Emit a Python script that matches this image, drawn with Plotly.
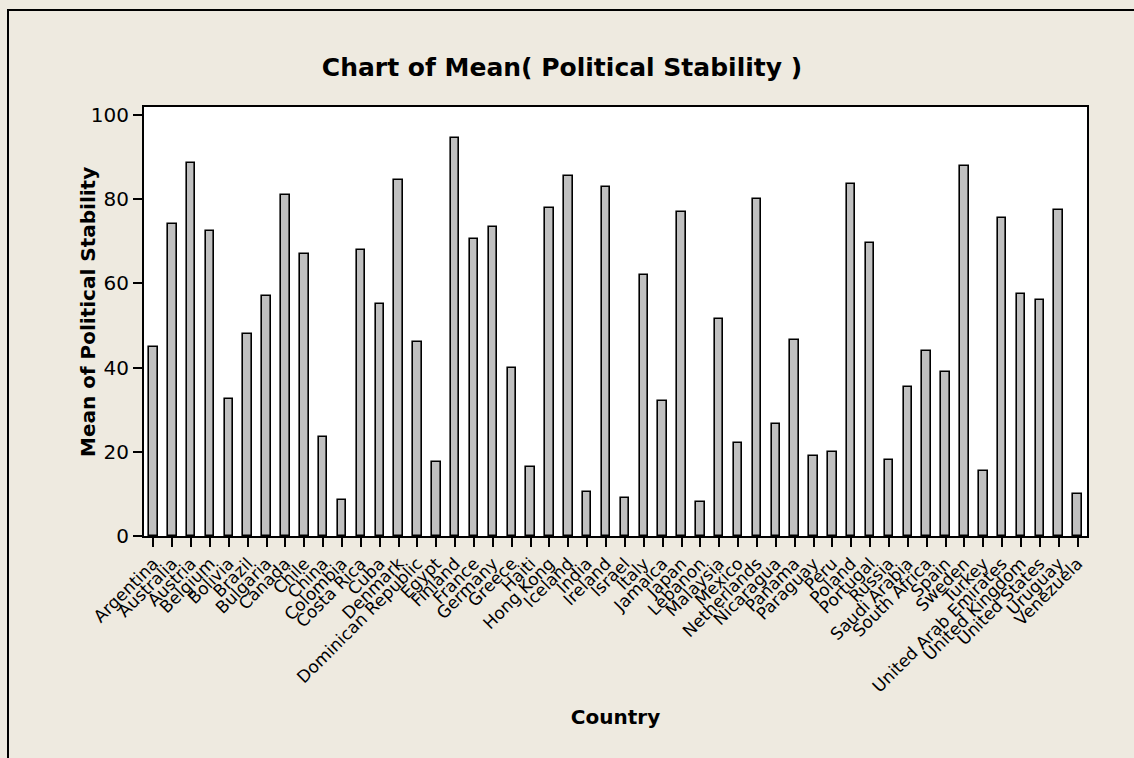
import plotly.graph_objects as go

countries = ["Argentina", "Australia", "Austria", "Belgium", "Bolivia", "Brazil", "Bulgaria",
             "Canada", "Chile", "China", "Colombia", "Costa Rica", "Cuba", "Denmark",
             "Dominican Republic", "Egypt", "Finland", "France", "Germany", "Greece", "Haiti",
             "Hong Kong", "Iceland", "India", "Ireland", "Israel", "Italy", "Jamaica", "Japan",
             "Lebanon", "Malaysia", "Mexico", "Netherlands", "Nicaragua", "Panama", "Paraguay",
             "Peru", "Poland", "Portugal", "Russia", "Saudi Arabia", "South Africa", "Spain",
             "Sweden", "Turkey", "United Arab Emirates", "United Kingdom", "United States",
             "Uruguay", "Venezuela"]

mean_stability = [45, 74, 88.5, 72.5, 32.5, 48, 57, 81, 67, 23.5, 8.5, 68, 55, 84.5,
                  46, 17.5, 94.5, 70.5, 73.5, 40, 16.5, 78, 85.5, 10.5, 83, 9, 62, 32,
                  77, 8, 51.5, 22, 80, 26.5, 46.5, 19, 20, 83.5, 69.5, 18, 35.5, 44, 39,
                  88, 15.5, 75.5, 57.5, 56, 77.5, 10]

y_ticks = [0, 20, 40, 60, 80, 100]

W, H = 1134, 758
L, R, T, B = 144, 47, 107, 222
pw, ph = W - L - R, H - T - B


def px_x(X):
    return (X - L) / pw


def px_y(Y):
    return (H - B - Y) / ph


fig = go.Figure()
fig.add_trace(go.Bar(
    x=countries, y=mean_stability, width=0.45,
    marker=dict(color="#C0C0C0", line=dict(color="black", width=1.6)),
))

fig.update_layout(
    width=W, height=H,
    margin=dict(l=L, r=R, t=T, b=B, autoexpand=False),
    paper_bgcolor="#EEEAE0",
    plot_bgcolor="white",
    showlegend=False,
    bargap=0,
    font=dict(family="DejaVu Sans", color="black"),
    title=dict(text="<b>Chart of Mean( Political Stability )</b>",
               font=dict(family="DejaVu Sans", size=25, color="black"),
               x=562 / W, xanchor="center", xref="container",
               y=1 - 67 / H, yanchor="middle", yref="container"),
    xaxis=dict(
        type="category", range=[-0.5, len(countries) - 0.5],
        tickmode="array", tickvals=countries, ticktext=countries,
        showline=True, mirror=True, linecolor="black", linewidth=2,
        ticks="outside", ticklen=9, tickwidth=2, tickcolor="black",
        tickangle=-45, tickfont=dict(size=17, family="DejaVu Sans"),
        showgrid=False, zeroline=False,
        title=dict(text="<b>Country</b>", font=dict(size=20), standoff=15),
    ),
    yaxis=dict(
        range=[0, 101.9], tickvals=y_ticks,
        showline=True, mirror=True, linecolor="black", linewidth=2,
        ticks="outside", ticklen=9, tickwidth=2, tickcolor="black",
        tickfont=dict(size=20, family="DejaVu Sans"),
        showgrid=False, zeroline=False,
    ),
    annotations=[dict(text="<b>Mean of Political Stability</b>", textangle=-90,
                      xref="paper", yref="paper", x=px_x(88), y=px_y(312),
                      xanchor="center", yanchor="middle", showarrow=False,
                      font=dict(size=20, family="DejaVu Sans", color="black"))],
    shapes=[dict(type="rect", xref="paper", yref="paper",
                 x0=px_x(8), x1=px_x(W + 20),
                 y0=px_y(H + 20), y1=px_y(10),
                 line=dict(color="black", width=2), fillcolor="rgba(0,0,0,0)", layer="below")],
)

fig.write_html("out.html", config={"displayModeBar": False},
               post_script="document.body.style.margin='0';document.body.style.overflow='hidden';")
